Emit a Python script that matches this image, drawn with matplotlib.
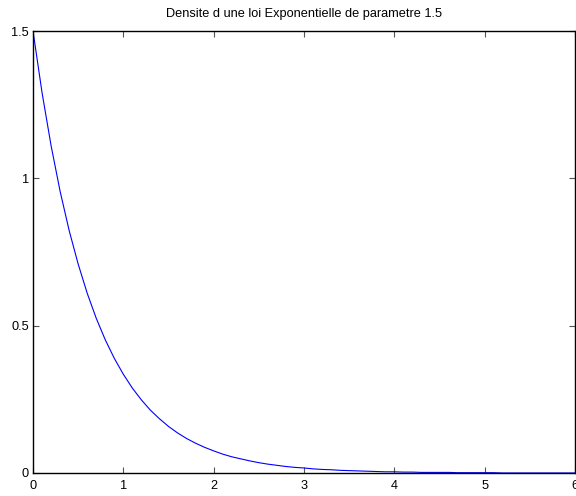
import matplotlib
matplotlib.use("Agg")
import matplotlib.pyplot as plt

plt.rcParams['font.family'] = ['Liberation Sans', 'DejaVu Sans']

# density values sampled every 0.1 on [0, 6]
x_vals = [round(0.1 * i, 1) for i in range(61)]
density = [1.500, 1.291, 1.111, 0.956, 0.823, 0.709, 0.610, 0.525, 0.452, 0.389,
           0.335, 0.288, 0.248, 0.213, 0.184, 0.158, 0.136, 0.117, 0.101, 0.087,
           0.075, 0.064, 0.055, 0.048, 0.041, 0.035, 0.030, 0.026, 0.022, 0.019,
           0.017, 0.014, 0.012, 0.011, 0.009, 0.008, 0.007, 0.006, 0.005, 0.004,
           0.004, 0.003, 0.003, 0.002, 0.002, 0.002, 0.002, 0.001, 0.001, 0.001,
           0.001, 0.001, 0.000, 0.000, 0.000, 0.000, 0.000, 0.000, 0.000, 0.000,
           0.000]
x_ticks = [0, 1, 2, 3, 4, 5, 6]
y_ticks = [0, 0.5, 1, 1.5]
y_tick_labels = ['0', '0.5', '1', '1.5']
title = 'Densite d une loi Exponentielle de parametre 1.5'

fig = plt.figure(figsize=(5.76, 4.96), dpi=100)
ax = fig.add_axes([0.0573, 0.0464, 0.9410, 0.8911])
ax.plot(x_vals, density, color='#0000ff', linewidth=0.8)
ax.set_xlim(0, 6)
ax.set_ylim(0, 1.5)
ax.set_xticks(x_ticks)
ax.set_xticklabels([str(t) for t in x_ticks])
ax.set_yticks(y_ticks)
ax.set_yticklabels(y_tick_labels)
ax.tick_params(direction='in', length=4, width=0.8, color='#555555',
               top=True, right=True, labelsize=9.2)
ax.tick_params(axis='x', pad=5)
ax.tick_params(axis='y', pad=3)
for s in ax.spines.values():
    s.set_linewidth(1.0)
    s.set_color('black')
ax.set_title(title, fontsize=9.2, pad=10)
fig.savefig('out.png', dpi=100)
